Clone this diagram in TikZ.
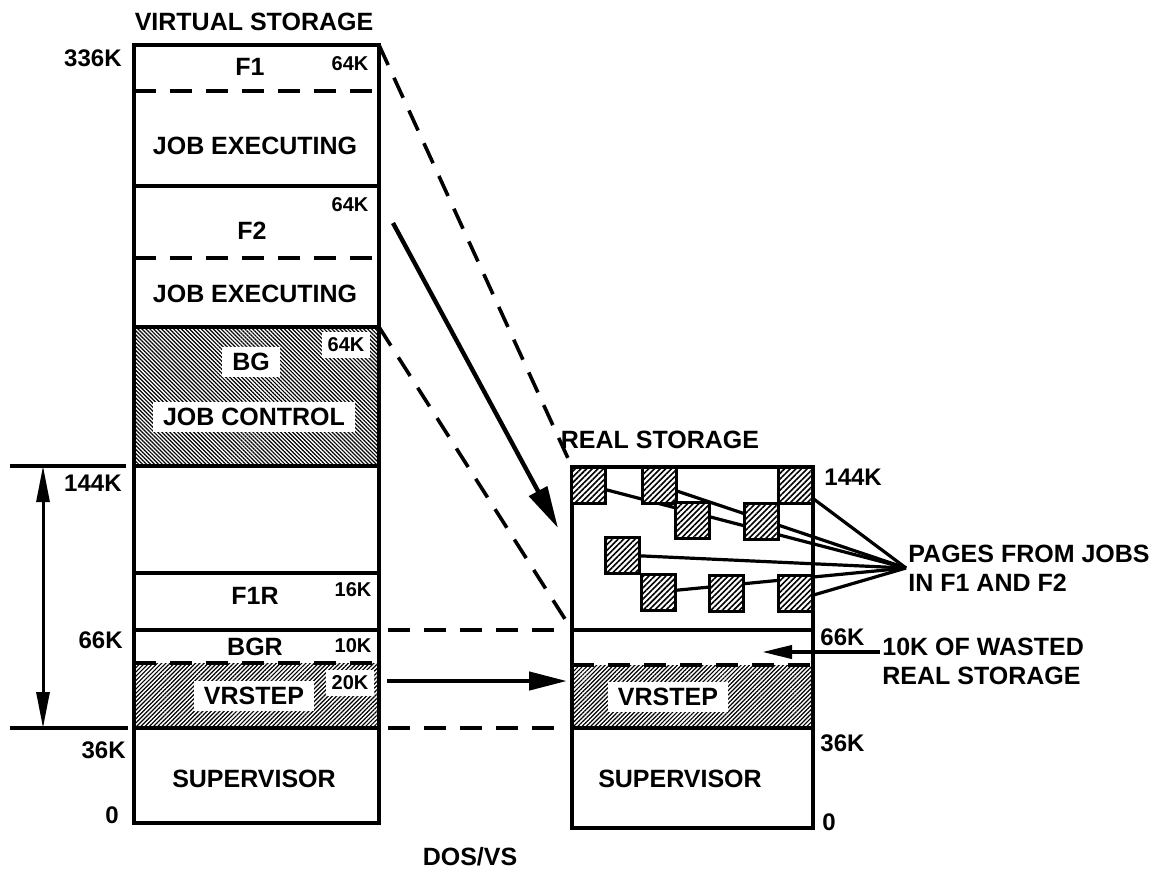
\documentclass[tikz,border=0pt]{standalone}
\usepackage{fontspec}
\setmainfont{Liberation Sans}
\usetikzlibrary{arrows.meta,patterns.meta,positioning,calc}
\pgfdeclarelayer{back}
\pgfsetlayers{back,main}
\tikzset{
  wall/.style={line width=2pt},
  dashcut/.style={line width=1.8pt,dash pattern=on 11pt off 7pt},
  bigtxt/.style={font=\fontsize{12.5}{14.5}\selectfont\bfseries,inner sep=1pt},
  kbtxt/.style={font=\fontsize{10}{12}\selectfont\bfseries,inner sep=1pt},
  addr/.style={font=\fontsize{12}{14}\selectfont\bfseries,inner sep=1pt},
  lbl/.style={fill=white,inner xsep=5pt,inner ysep=3pt},
  jcshade/.style={pattern={Lines[angle=-45,distance=1.4pt,line width=0.6pt]}},
  vrshade/.style={pattern={Lines[angle=45,distance=1.5pt,line width=0.6pt]}},
  % hatched page frames in real storage
  pg/.style={draw,line width=1.5pt,minimum width=17pt,minimum height=18pt,inner sep=0pt,
    preaction={fill=white},pattern={Lines[angle=45,distance=2pt,line width=0.8pt]}},
  pgline/.style={line width=1.6pt},
  bigarrow/.style={line width=2.2pt,-{Triangle[length=21pt,width=10pt]}},
  wastearrow/.style={line width=2pt,-{Triangle[length=15pt,width=6.5pt]}},
  dimarrow/.style={line width=1.5pt,{Triangle[length=18pt,width=6.5pt]}-{Triangle[length=18pt,width=6.5pt]}},
}
\begin{document}
\begin{tikzpicture}[x=0.5pt,y=-0.5pt]
\path[use as bounding box] (0,0) rectangle (1154,880);

% virtual storage
\node[bigtxt] (vtitle) at (254,22) {VIRTUAL STORAGE};
\path[jcshade] (134,327) rectangle (379,466);
\path[vrshade] (134,663) rectangle (379,728);
\draw[wall] (134,45) rectangle (379,823);
\foreach \y in {186,327,466,573,630,728} \draw[wall] (134,\y) -- (379,\y);
\foreach \y in {91,258,663} \draw[dashcut] (134,\y) -- (379,\y);

\node[bigtxt] (f1) at (250,67) {F1};
\node[kbtxt] (f1k) at (350,64) {64K};
\node[bigtxt] (job1) at (255,146) {JOB EXECUTING};
\node[bigtxt] (f2) at (252,231) {F2};
\node[kbtxt] (f2k) at (350,205) {64K};
\node[bigtxt] (job2) at (255,294) {JOB EXECUTING};
\node[bigtxt,lbl] (bg) at (251,362) {BG};
\node[kbtxt,lbl,inner xsep=3pt] (bgk) at (346,345) {64K};
\node[bigtxt,lbl] (jobc) at (254,417) {JOB CONTROL};
\node[bigtxt] (f1r) at (255,596) {F1R};
\node[kbtxt] (f1rk) at (353,590) {16K};
\node[bigtxt] (bgr) at (255,647) {BGR};
\node[kbtxt] (bgrk) at (353,646) {10K};
\node[bigtxt,lbl] (vrs) at (254,696) {VRSTEP};
\node[kbtxt,lbl,inner xsep=3pt] (vrsk) at (350,683) {20K};
\node[bigtxt] (sup) at (254,779) {SUPERVISOR};

\node[addr,anchor=east] (a336) at (124,58) {336K};
\node[addr,anchor=east] (a144) at (124,483) {144K};
\node[addr,anchor=east] (a66) at (125,640) {66K};
\node[addr,anchor=east] (a36) at (128,750) {36K};
\node[addr,anchor=east] (a0) at (121,815) {0};

% span 36K-144K
\coordinate (d1) at (43,466);
\coordinate (d2) at (43,728);
\draw[wall] (10,466) -- (126,466);
\draw[wall] (10,728) -- (128,728);
\draw[dimarrow] (d1) -- (d2);

% real storage
\node[bigtxt] (rtitle) at (660,440) {REAL STORAGE};
\path[vrshade] (572,665) rectangle (813,728);
\draw[wall] (572,467) rectangle (813,828);
\draw[wall] (572,630) -- (813,630);
\draw[wall] (572,728) -- (813,728);
\draw[dashcut] (572,665) -- (813,665);
\node[bigtxt,lbl] (rvrs) at (668,697) {VRSTEP};
\node[bigtxt] (rsup) at (680,779) {SUPERVISOR};

\node[addr,anchor=west] (r144) at (822,477) {144K};
\node[addr,anchor=west] (r66) at (818,637) {66K};
\node[addr,anchor=west] (r36) at (818,743) {36K};
\node[addr,anchor=west] (r0) at (820,822) {0};

\node[pg] (p1) at (588,485) {};
\node[pg] (p2) at (659,485) {};
\node[pg] (p3) at (795,485) {};
\node[pg] (p4) at (692,520) {};
\node[pg] (p5) at (761,521) {};
\node[pg] (p6) at (622,555) {};
\node[pg] (p7) at (658,592) {};
\node[pg] (p8) at (726,593) {};
\node[pg] (p9) at (795,593) {};

\node[bigtxt,anchor=west,align=left] (pages) at (906,568) {PAGES FROM JOBS\\IN F1 AND F2};
\begin{pgfonlayer}{back}
\foreach \p in {p1,p2,p3,p6,p7} \draw[pgline] (\p) -- (pages.west);
\draw[pgline] ([yshift=-1pt]p9.east) -- (pages.west);
\end{pgfonlayer}

\node[bigtxt,anchor=west,align=left] (waste) at (880,661) {10K OF WASTED\\REAL STORAGE};
\coordinate (wtip) at (762,652);
\draw[wastearrow] (waste.west |- wtip) -- (wtip);

% mapping between the two
\coordinate (vtop) at (379,45);
\coordinate (vbg) at (379,327);
\coordinate (rtop) at (572,467);
\coordinate (rmid) at (572,630);
\draw[dashcut] (vtop) -- (rtop);
\draw[dashcut] (vbg) -- (rmid);
\draw[dashcut] (388,630) -- (567,630);
\draw[dashcut] (388,728) -- (560,728);
\coordinate (f2out) at (393,223);
\coordinate (f2in) at (558,528);
\draw[bigarrow] (f2out) -- (f2in);
\coordinate (vrout) at (387,681);
\coordinate (vrin) at (567,681);
\draw[bigarrow,-{Triangle[length=19pt,width=9pt]}] (vrout) -- (vrin);

\node[bigtxt] (dos) at (470,857) {DOS/VS};
\end{tikzpicture}
\end{document}
